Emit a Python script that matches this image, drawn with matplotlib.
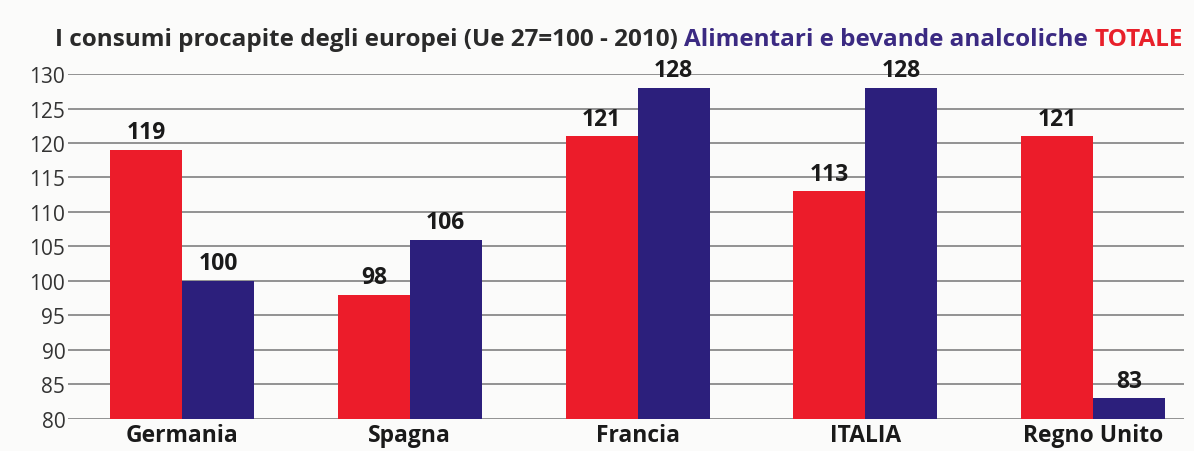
import numpy as np
import matplotlib
matplotlib.use('Agg')
import matplotlib.pyplot as plt

countries = ['Germania', 'Spagna', 'Francia', 'ITALIA', 'Regno Unito']
totale = [119, 98, 121, 113, 121]
alimentari = [100, 106, 128, 128, 83]
yticks = list(range(80, 131, 5))

red = '#ec1c2a'
blue = '#2c1f7c'
plt.rcParams['font.family'] = ['Open Sans', 'DejaVu Sans']

fig = plt.figure(figsize=(11.94, 4.52), dpi=100)
fig.patch.set_facecolor('#fbfbfa')
ax = fig.add_axes([0.057, 0.071, 0.935, 0.763])
ax.set_facecolor('#fbfbfa')

x = np.arange(len(countries))
w = 0.316
b1 = ax.bar(x - w/2, totale, w, color=red, zorder=3)
b2 = ax.bar(x + w/2, alimentari, w, color=blue, zorder=3)
for rects, vals in ((b1, totale), (b2, alimentari)):
    for r, v in zip(rects, vals):
        ax.annotate(str(v), (r.get_x() + r.get_width()/2, v), xytext=(0, 4),
                    textcoords='offset points', ha='center', va='bottom',
                    fontsize=16.5, fontweight='bold', color='#1a1a1a')

ax.set_xlim(-0.5, 4.4)
ax.set_ylim(80, 130)
ax.set_yticks(yticks)
ax.set_yticklabels([str(t) for t in yticks], fontsize=15, color='#333333')
ax.set_xticks(x)
ax.set_xticklabels(countries, fontsize=16.5, fontweight='bold', color='#1a1a1a')
ax.tick_params(axis='both', length=0, pad=3)
ax.tick_params(axis='y', pad=2)
ax.grid(axis='y', color='#8a8a8a', linewidth=1.3, zorder=0)
for s in ax.spines.values():
    s.set_visible(False)

# title in three colours, placed one after the other, scaled to span the width
parts = [('I consumi procapite degli europei (Ue 27=100 - 2010) ', '#2a2a2a'),
         ('Alimentari e bevande analcoliche ', '#3b2a82'),
         ('TOTALE', '#e8202a')]
fig.canvas.draw()
r = fig.canvas.get_renderer()
probe = fig.text(0, 0, ''.join(p[0] for p in parts), fontsize=16, fontweight='bold')
size = 16 * 1130 / probe.get_window_extent(renderer=r).width
probe.remove()
xpos = 55 / 1194
for txt, col in parts:
    t = fig.text(xpos, 0.911, txt, fontsize=size, fontweight='bold',
                 color=col, va='center', ha='left')
    bb = t.get_window_extent(renderer=r)
    xpos += bb.width / fig.bbox.width

fig.savefig('out.png', dpi=100, facecolor=fig.get_facecolor())
